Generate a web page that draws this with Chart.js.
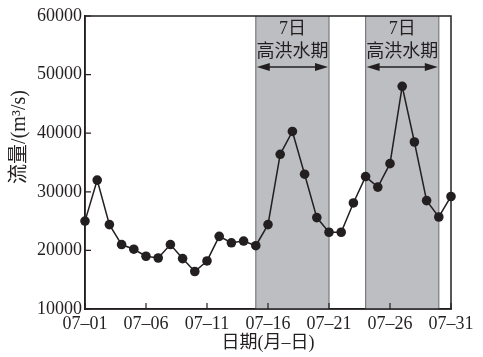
<!DOCTYPE html>
<html>
<head>
<meta charset="utf-8">
<script src="https://cdn.jsdelivr.net/npm/chart.js@4"></script>
<style>
html,body{margin:0;padding:0;background:#fff;}
#wrap{width:483px;height:357px;position:relative;}
</style>
</head>
<body>
<div id="wrap"><canvas id="c" width="483" height="357"></canvas></div>
<script>
const dates = ["07-01","07-02","07-03","07-04","07-05","07-06","07-07","07-08","07-09","07-10",
  "07-11","07-12","07-13","07-14","07-15","07-16","07-17","07-18","07-19","07-20",
  "07-21","07-22","07-23","07-24","07-25","07-26","07-27","07-28","07-29","07-30","07-31"];
const flow = [25000,32000,24400,21000,20200,19000,18700,21000,18600,16400,
  18200,22400,21300,21600,20800,24400,36400,40300,33000,25600,
  23100,23100,28100,32600,30800,34800,48000,38500,28500,25700,29200];
const shownDates = ["07-01","07-06","07-11","07-16","07-21","07-26","07-31"];
const highFloodPeriods = [["07-15","07-21"],["07-24","07-30"]];
const periodTop = "7日";
const periodLabel = "高洪水期";
const yTitle = "流量/(m³/s)";
const xTitle = "日期(月–日)";
const yMin = 10000, yMax = 60000, yStep = 10000;

const SERIF = "'Liberation Serif','Noto Sans CJK SC',serif";
const INK = "#231f20";

const decor = {
  id: 'decor',
  beforeDatasetsDraw(chart) {
    const {ctx, chartArea: a, scales: {x}} = chart;
    ctx.save();
    highFloodPeriods.forEach(([s, e]) => {
      const x0 = x.getPixelForValue(dates.indexOf(s));
      const x1 = x.getPixelForValue(dates.indexOf(e));
      ctx.fillStyle = "#bdbec1";
      ctx.fillRect(x0, a.top, x1 - x0, a.bottom - a.top);
      ctx.strokeStyle = "#7a7b7e";
      ctx.lineWidth = 1.2;
      ctx.beginPath();
      ctx.moveTo(x0, a.top); ctx.lineTo(x0, a.bottom);
      ctx.moveTo(x1, a.top); ctx.lineTo(x1, a.bottom);
      ctx.stroke();
    });
    ctx.restore();
  },
  afterDraw(chart) {
    const {ctx, chartArea: a, scales: {x, y}} = chart;
    ctx.save();
    ctx.strokeStyle = INK;
    ctx.lineWidth = 1.5;
    ctx.strokeRect(a.left, a.top, a.right - a.left, a.bottom - a.top);
    ctx.lineWidth = 1.2;
    ctx.beginPath();
    y.ticks.forEach(t => {
      const py = y.getPixelForValue(t.value);
      ctx.moveTo(a.left, py); ctx.lineTo(a.left + 6, py);
    });
    shownDates.forEach(d => {
      const px = x.getPixelForValue(dates.indexOf(d));
      ctx.moveTo(px, a.bottom); ctx.lineTo(px, a.bottom - 6);
    });
    ctx.stroke();
    highFloodPeriods.forEach(([s, e]) => {
      const x0 = x.getPixelForValue(dates.indexOf(s));
      const x1 = x.getPixelForValue(dates.indexOf(e));
      const cx = (x0 + x1) / 2;
      ctx.fillStyle = INK;
      ctx.font = "18px " + SERIF;
      ctx.textAlign = "center";
      ctx.textBaseline = "middle";
      ctx.fillText(periodTop, cx, 29);
      ctx.fillText(periodLabel, cx, 52);
      const ay = 67;
      ctx.strokeStyle = INK;
      ctx.lineWidth = 1.3;
      ctx.beginPath();
      ctx.moveTo(x0 + 8, ay); ctx.lineTo(x1 - 8, ay);
      ctx.stroke();
      ctx.beginPath();
      ctx.moveTo(x0 + 1, ay); ctx.lineTo(x0 + 14, ay - 4); ctx.lineTo(x0 + 14, ay + 4); ctx.closePath();
      ctx.moveTo(x1 - 1, ay); ctx.lineTo(x1 - 14, ay - 4); ctx.lineTo(x1 - 14, ay + 4); ctx.closePath();
      ctx.fill();
    });
    ctx.fillStyle = INK;
    ctx.font = "18px " + SERIF;
    ctx.textAlign = "center";
    ctx.textBaseline = "middle";
    ctx.fillText(xTitle, 268, 343);
    ctx.font = "20px " + SERIF;
    ctx.translate(20, 137);
    ctx.rotate(-Math.PI / 2);
    ctx.fillText(yTitle, 0, 0);
    ctx.restore();
  }
};

new Chart(document.getElementById('c'), {
  type: 'line',
  data: {
    labels: dates,
    datasets: [{
      data: flow,
      borderColor: INK,
      backgroundColor: INK,
      borderWidth: 1.5,
      pointRadius: 4.8,
      pointHoverRadius: 4.8,
      pointBackgroundColor: INK,
      pointBorderWidth: 0,
      tension: 0,
      clip: false
    }]
  },
  options: {
    responsive: false,
    animation: false,
    devicePixelRatio: 1,
    events: [],
    layout: {padding: {top: 16, right: 32, left: 0, bottom: 0}},
    plugins: {legend: {display: false}, tooltip: {enabled: false}},
    scales: {
      x: {
        type: 'category',
        offset: false,
        grid: {display: false, drawTicks: false},
        border: {display: true, color: INK, width: 1.5},
        ticks: {
          autoSkip: false,
          maxRotation: 0,
          padding: 4,
          color: INK,
          font: {family: SERIF, size: 18},
          callback: function(v, i) { const l = dates[i]; return shownDates.includes(l) ? l.replace('-', '–') : ''; }
        },
        afterFit(s) { s.height = 48; }
      },
      y: {
        min: yMin, max: yMax,
        grid: {display: false, drawTicks: false},
        border: {display: true, color: INK, width: 1.5},
        ticks: {stepSize: yStep, padding: 3, color: INK, font: {family: SERIF, size: 18},
          callback: v => String(v)},
        afterFit(s) { s.width = 85; }
      }
    }
  },
  plugins: [decor]
});
</script>
</body>
</html>
